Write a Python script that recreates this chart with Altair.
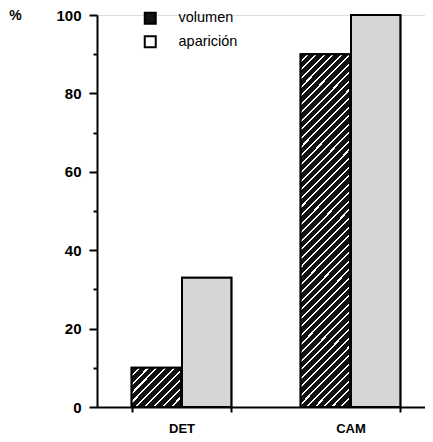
import altair as alt
import pandas as pd

groups = ["DET", "CAM"]
series = ["volumen", "aparición"]
volumen = [10, 90]
aparicion = [33, 100]
y_ticks = [0, 10, 20, 30, 40, 50, 60, 70, 80, 90, 100]

rows = []
for g, v, a in zip(groups, volumen, aparicion):
    rows.append({"group": g, "series": series[0], "value": v})
    rows.append({"group": g, "series": series[1], "value": a})
df = pd.DataFrame(rows)

PLOT_W, PLOT_H = 328, 392
RANGE_W = 338
FONT = "Liberation Sans"
BAR_W = RANGE_W / 2.0 * 0.59 / 2


def hatch(h, w=BAR_W, period=8.5, frac=0.76):
    s = w * w + h * h
    x2 = (w + h) * w / s
    y2 = (w + h) * h / s
    n = max(1, int(round((w + h) / period)))
    stops = []
    for k in range(n):
        a, b, c = k / n, (k + frac) / n, (k + 1) / n
        stops += [
            {"offset": a, "color": "#111111"},
            {"offset": b, "color": "#111111"},
            {"offset": b, "color": "#ffffff"},
            {"offset": c, "color": "#ffffff"},
        ]
    return {"gradient": "linear", "x1": 0, "y1": 0, "x2": x2, "y2": y2, "stops": stops}


x_enc = alt.X(
    "group:N",
    sort=groups,
    scale=alt.Scale(paddingInner=0.41, paddingOuter=0.205, range=[0, RANGE_W]),
    axis=alt.Axis(
        title=None,
        labelAngle=0,
        tickBand="extent",
        domainColor="black",
        domainWidth=2,
        tickColor="black",
        tickWidth=2,
        tickSize=5,
        labelFont=FONT,
        labelFontSize=13,
        labelFontWeight="bold",
        labelColor="black",
        labelPadding=10,
    ),
)
xoff_enc = alt.XOffset("series:N", sort=series, scale=alt.Scale(paddingInner=0.02))
y_enc = alt.Y(
    "value:Q",
    scale=alt.Scale(domain=[0, 100], nice=False),
    axis=alt.Axis(
        title="%",
        titleAngle=0,
        titleX=-82,
        titleY=0,
        titleAlign="center",
        titleBaseline="middle",
        titleFont=FONT,
        titleFontSize=14,
        titleFontWeight="bold",
        values=y_ticks,
        labelExpr="datum.value % 20 == 0 ? datum.label : ''",
        tickSize={"condition": {"test": "datum.value % 20 == 0", "value": 8}, "value": 4},
        tickColor="black",
        tickWidth=2,
        domainColor="black",
        domainWidth=2,
        grid=False,
        labelFont=FONT,
        labelFontSize=15,
        labelFontWeight="bold",
        labelColor="black",
        labelPadding=8,
    ),
)

base = alt.Chart(df).mark_bar(stroke="black", strokeWidth=2).encode(
    x=x_enc,
    xOffset=xoff_enc,
    y=y_enc,
    color=alt.Color(
        "series:N",
        sort=series,
        scale=alt.Scale(domain=series, range=["#111111", "#ffffff"]),
        legend=alt.Legend(
            title=None,
            orient="none",
            legendX=46,
            legendY=-4,
            symbolType="square",
            symbolSize=121,
            symbolStrokeColor="black",
            symbolStrokeWidth=2,
            symbolOpacity=1,
            labelFont=FONT,
            labelFontSize=14.5,
            labelColor="black",
            labelOffset=21,
            rowPadding=3.5,
        ),
    ),
)

layers = [base]
for g, v in zip(groups, volumen):
    layers.append(
        alt.Chart(df)
        .transform_filter(f"datum.group == '{g}' && datum.series == '{series[0]}'")
        .mark_bar(stroke="black", strokeWidth=2, fill=hatch(v * PLOT_H / 100))
        .encode(x=x_enc, xOffset=xoff_enc, y=y_enc)
    )
layers.append(
    alt.Chart(df)
    .transform_filter(f"datum.series == '{series[1]}'")
    .mark_bar(stroke="black", strokeWidth=2, fill="#d6d6d6")
    .encode(x=x_enc, xOffset=xoff_enc, y=y_enc)
)

chart = (
    alt.layer(*layers)
    .properties(
        width=PLOT_W,
        height=PLOT_H,
        autosize="none",
        padding={"left": 89, "top": 7, "right": 0, "bottom": 27},
    )
    .configure_view(stroke=None)
    .configure(background="white")
)

chart.save("out.html", embed_options={"renderer": "svg", "actions": False})
